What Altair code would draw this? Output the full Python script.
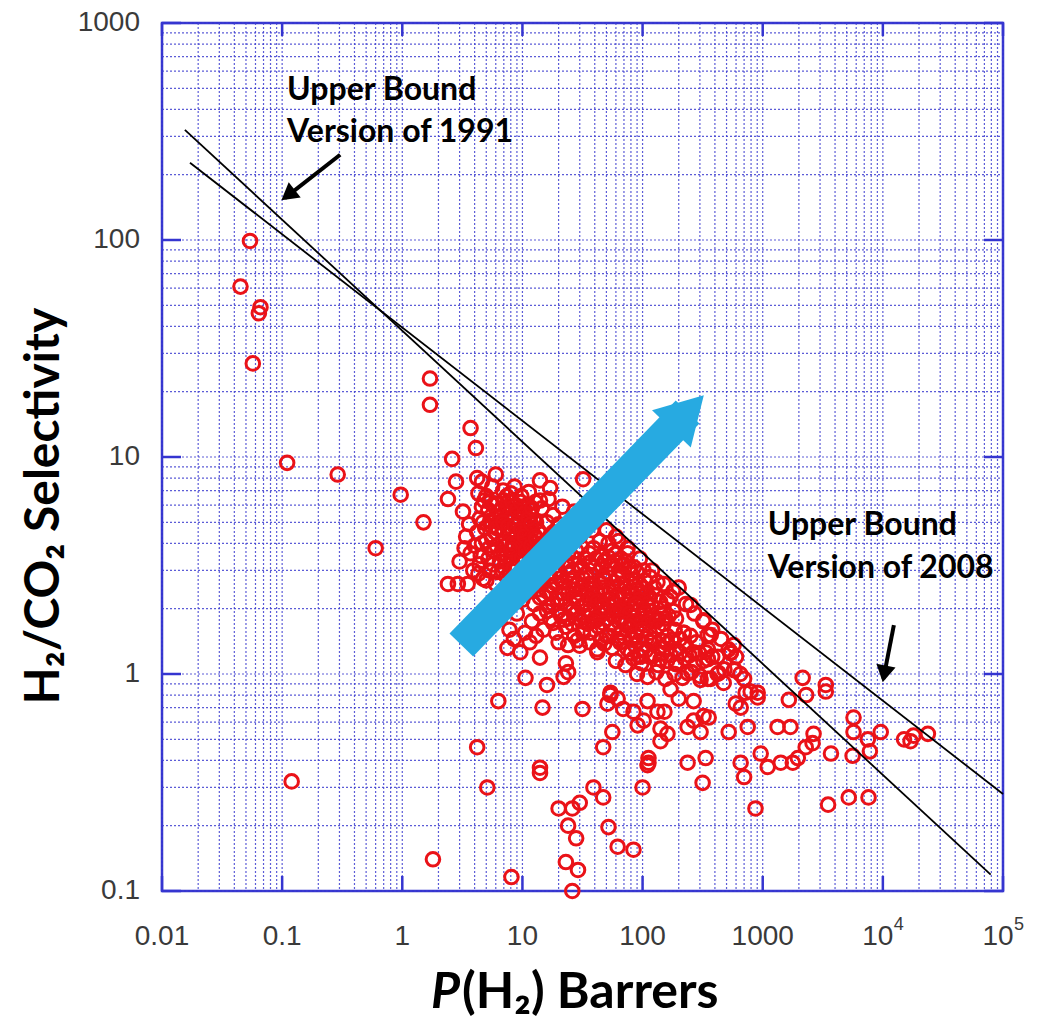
import altair as alt
import pandas as pd

# ---------------- data ----------------
# membrane data points: (P(H2) in Barrer, H2/CO2 selectivity)
points_sparse_left = [
    (0.054, 99), (0.045, 61), (0.066, 49), (0.064, 46), (0.057, 27), (0.11, 9.4),
    (0.29, 8.3), (0.97, 6.7), (0.6, 3.8), (0.12, 0.32), (1.8, 0.14), (1.7, 23),
    (1.7, 17.4), (1.5, 5.0),
]
points_cluster_a = [
    (2.4, 6.4), (2.6, 9.8), (2.8, 7.7), (4.2, 8.0), (4.6, 7.7), (6.0, 8.3), (5.6, 7.3),
    (3.7, 13.6), (4.1, 11), (14, 7.8), (14, 6.3), (14.5, 5.8), (21.5, 5.9), (32, 7.9),
    (3.2, 5.6), (3.6, 4.9), (3.4, 4.3), (4.4, 5.2), (4.8, 6.3), (5.2, 5.7), (5.5, 4.8),
    (6.2, 6.1), (6.6, 5.3), (7.0, 4.6), (7.5, 5.8), (8.0, 6.8), (8.4, 5.1), (9.0, 4.4),
    (9.6, 5.5), (10.2, 4.8), (11, 6.0), (11.5, 4.2), (12.5, 5.1), (13.5, 4.6), (15, 4.0),
    (16, 5.0), (17.5, 4.3), (19, 3.8), (20, 4.9), (22, 4.1), (24, 3.6),
    (4.0, 3.9), (4.5, 3.5), (5.0, 4.1), (5.8, 3.7), (6.5, 3.3), (7.2, 3.9), (8.0, 3.5),
    (8.8, 3.1), (9.5, 3.7), (10.5, 3.3), (12, 3.0), (13, 3.6), (3.0, 3.3), (2.9, 2.6),
    (3.5, 2.6), (4.7, 2.75), (2.4, 2.6), (3.9, 3.0), (5.3, 3.0), (6.0, 2.6), (7.4, 2.8),
    (8.5, 2.6), (9.8, 2.9), (11, 2.5), (6.8, 4.1), (7.8, 4.4), (8.6, 3.9), (9.2, 4.9),
    (10.8, 4.0), (12, 4.6), (5.9, 4.5), (6.3, 5.0), (7.3, 5.2), (8.3, 4.6), (10, 5.9),
    (11.8, 5.4), (13, 5.0), (6.9, 7.0), (8.6, 7.3), (9.8, 6.6), (11.3, 6.9), (12.8, 6.2),
    (16.5, 6.4), (18, 5.4), (17, 7.2),
    (4.3, 6.8), (5.0, 6.6), (5.7, 6.0), (6.4, 5.6), (7.0, 6.3), (7.8, 5.5), (8.8, 6.0),
    (9.3, 5.2), (10.5, 5.0), (11.5, 5.7), (4.2, 4.5), (4.9, 4.7), (5.6, 4.2), (6.1, 3.9),
    (7.0, 3.6), (7.6, 4.0), (8.3, 4.0), (9.2, 4.1), (10, 3.9), (10.8, 4.5), (5.2, 3.4),
    (6.8, 3.0), (7.9, 3.2), (9.0, 3.4), (11.2, 3.6), (3.7, 3.6), (4.4, 3.2), (3.3, 3.8),
    (4.6, 5.9), (5.4, 6.2), (6.0, 5.3), (6.8, 5.8), (7.4, 6.6), (8.2, 6.2), (9.0, 5.7),
    (9.7, 6.2), (10.4, 5.5), (11.2, 5.2), (12.0, 5.8), (4.7, 5.0), (5.4, 5.1), (6.1, 4.7),
    (6.9, 5.0), (7.6, 4.8), (8.6, 4.8), (9.6, 4.6), (10.4, 4.3), (11.8, 4.9), (12.8, 4.3),
    (4.6, 4.0), (5.3, 3.8), (6.6, 3.6), (7.3, 3.3), (8.0, 3.75), (9.8, 3.4), (10.6, 3.7),
    (11.8, 3.9), (12.6, 3.4), (5.7, 3.2), (6.2, 2.95), (7.0, 3.1), (8.4, 3.05), (9.2, 2.75),
    (10.2, 3.05), (4.3, 2.9), (5.0, 2.7), (14, 3.9), (13, 4.2),
    (6.5, 1.8), (7.8, 1.6), (9, 1.9), (10.5, 1.55), (12, 1.75), (8.5, 1.45), (11.5, 1.4),
    (13, 1.5), (6.8, 2.2), (8.2, 2.3),
]
points_cluster_b = [
    (18, 4.5), (22, 4.0), (26, 4.8), (30, 4.3), (34, 5.2), (38, 4.6), (42, 5.5), (27, 5.6),
    (15, 3.4), (19, 3.6), (23, 3.3), (28, 3.7), (33, 3.4), (39, 3.8), (45, 3.5), (52, 4.0),
    (60, 3.6), (50, 4.6),
    (16, 3.9), (21, 3.5), (25, 3.95), (31, 3.85), (36, 3.6), (44, 4.1), (48, 3.3), (56, 3.7),
    (66, 3.4), (85, 3.1),
    (17, 3.2), (20, 3.35), (24, 3.15), (27, 3.4), (31, 3.1), (36, 3.25), (41, 3.4), (46, 3.15),
    (52, 3.45), (59, 3.3), (68, 3.2), (77, 3.1), (90, 2.95), (105, 2.7),
    (12, 2.9), (14, 3.1), (17, 2.8), (20, 3.0), (24, 2.9), (29, 3.2), (34, 2.9), (40, 3.1),
    (47, 2.8), (55, 3.2), (64, 3.0), (72, 3.3), (80, 2.9),
    (15, 2.65), (18.5, 2.9), (21.5, 2.65), (26, 3.0), (29, 2.6), (34, 2.4), (37, 2.85),
    (46, 2.5), (50, 2.95), (58, 2.65), (68, 2.85), (79, 2.65), (91, 2.45), (108, 2.35),
    (125, 2.5),
    (11, 2.5), (13, 2.7), (16, 2.4), (19, 2.6), (22, 2.5), (26, 2.7), (31, 2.5), (36, 2.6),
    (42, 2.4), (49, 2.7), (57, 2.5), (66, 2.6), (76, 2.4), (88, 2.7), (100, 2.5), (115, 2.8),
    (13.5, 2.45), (17.5, 2.55), (20.5, 2.75), (24, 2.35), (27.5, 2.45), (32, 2.75), (38, 2.45),
    (44, 2.65), (53, 2.4), (62, 2.75), (71, 2.5), (82, 2.35), (94, 2.6),
    (14, 2.25), (17, 2.35), (22, 2.35), (26, 2.45), (30, 2.35), (35, 2.3), (40, 2.05),
    (47, 2.35), (54, 2.05), (63, 2.3), (72, 2.0), (80, 2.2), (97, 2.35), (115, 2.25),
    (140, 2.15), (160, 2.2),
    (10, 2.2), (12.5, 2.1), (15, 2.3), (18, 2.1), (21, 2.2), (25, 2.0), (29, 2.2), (34, 2.1),
    (39, 2.3), (45, 2.0), (52, 2.2), (60, 2.1), (70, 2.3), (82, 2.0), (95, 2.2), (110, 2.1),
    (130, 2.3), (150, 2.0),
    (16.5, 2.05), (19.5, 2.2), (23, 2.1), (27, 2.25), (31, 2.05), (36, 2.2), (42, 2.15),
    (48, 2.05), (56, 2.25), (65, 2.0), (75, 2.15), (88, 2.1), (102, 2.0), (120, 2.05),
    (16, 1.95), (21, 1.85), (26, 1.95), (31, 1.75), (36, 1.95), (42, 1.78), (49, 1.95),
    (57, 1.85), (66, 1.95), (74, 1.75), (85, 1.85), (100, 1.8), (117, 1.95), (135, 1.8),
    (155, 1.8), (180, 1.95),
    (14, 1.9), (17, 1.8), (20, 1.95), (24, 1.8), (28, 1.9), (33, 1.85), (38, 1.75), (44, 1.9),
    (51, 1.8), (59, 1.95), (68, 1.8), (78, 1.9), (90, 1.75), (105, 1.9), (122, 1.8), (140, 1.9),
    (165, 1.85), (190, 1.8),
    (18, 1.72), (22, 1.78), (26, 1.7), (30, 1.8), (35, 1.7), (40, 1.8), (47, 1.72), (54, 1.7),
    (63, 1.75), (72, 1.7), (83, 1.75), (96, 1.7), (112, 1.72), (130, 1.75), (150, 1.7),
    (15, 1.6), (19, 1.55), (23, 1.65), (27, 1.5), (32, 1.6), (37, 1.55), (43, 1.65), (50, 1.5),
    (58, 1.6), (67, 1.55), (77, 1.65), (88, 1.5), (100, 1.6), (115, 1.55), (135, 1.65),
    (160, 1.5), (185, 1.6), (220, 1.55),
    (45, 1.45), (53, 1.5), (62, 1.45), (70, 1.48), (80, 1.45), (93, 1.42), (108, 1.46),
    (125, 1.45), (148, 1.42), (175, 1.44), (205, 1.45), (250, 1.5),
    (30, 1.35), (36, 1.4), (42, 1.3), (48, 1.38), (56, 1.32), (65, 1.4), (75, 1.3), (86, 1.36),
    (100, 1.3), (118, 1.4), (138, 1.32), (160, 1.38), (190, 1.3), (230, 1.35), (280, 1.4),
    (80, 1.25), (92, 1.22), (106, 1.28), (125, 1.22), (147, 1.25), (172, 1.22), (205, 1.25),
    (245, 1.22), (295, 1.25), (350, 1.3), (420, 1.2),
    (60, 1.15), (72, 1.1), (84, 1.18), (98, 1.12), (115, 1.2), (135, 1.1), (160, 1.15),
    (190, 1.12), (225, 1.18), (270, 1.1), (320, 1.15), (380, 1.2),
    (90, 1.0), (110, 0.97), (130, 1.02), (155, 0.95), (185, 1.0), (215, 0.96), (255, 1.02),
    (300, 0.98), (350, 0.95), (420, 1.0), (480, 1.05),
    (60, 4.3), (75, 3.8), (95, 3.4), (120, 3.0), (150, 2.6), (180, 2.4), (200, 2.5), (230, 2.1),
    (270, 1.9), (320, 1.75), (380, 1.6), (450, 1.45), (520, 1.3), (600, 1.2), (540, 1.25),
    (580, 1.05), (650, 1.0), (700, 0.95),
    (63, 4.1), (75, 3.6), (102, 3.0), (133, 2.65), (171, 2.26), (251, 2.08), (322, 1.77),
    (369, 1.51), (335, 1.26), (541, 1.26), (573, 1.36), (908, 0.82), (721, 0.82), (596, 0.73),
    (430, 1.01), (348, 1.51), (220, 1.55), (266, 1.26), (237, 1.01),
]
points_lower = [
    (7.5, 1.32), (9.6, 1.26), (14, 1.19), (10.6, 0.96), (16, 0.89), (6.3, 0.75), (14.7, 0.70),
    (31.6, 0.69), (22, 0.97), (24, 1.02), (23, 1.12), (20, 1.4), (28.7, 1.43), (24, 1.36),
    (32, 1.54), (42, 1.26),
    (4.2, 0.46), (5.1, 0.30), (8.1, 0.116), (14, 0.35), (14, 0.37), (20, 0.24), (26, 0.24),
    (30, 0.255), (24, 0.20), (28, 0.175), (23, 0.136), (29, 0.125), (26, 0.1), (39, 0.30),
    (47, 0.27), (52, 0.197), (62, 0.16), (84, 0.155), (100, 0.30), (110, 0.38), (47, 0.46),
    (56, 0.54), (112, 0.41), (112, 0.39),
    (54, 0.80), (62, 0.77), (51, 0.73), (69, 0.69), (84, 0.67), (91, 0.58), (102, 0.61),
    (141, 0.56), (161, 0.53), (141, 0.49), (152, 0.67), (54, 0.82), (110, 0.75), (133, 0.67),
    (171, 0.85), (200, 0.77), (266, 0.75), (322, 0.64), (96, 1.2), (141, 1.17), (189, 1.11),
    (304, 0.94), (350, 1.17),
]
points_right = [
    (2150, 0.96), (2300, 0.80), (3350, 0.89), (3350, 0.83), (1650, 0.76), (1330, 0.57),
    (1700, 0.57), (2650, 0.53), (2600, 0.48), (3700, 0.43), (5700, 0.63), (5700, 0.54),
    (5600, 0.42), (7500, 0.50), (7800, 0.44), (9600, 0.54), (15000, 0.50), (17000, 0.49),
    (18000, 0.52), (23700, 0.53), (962, 0.43), (1100, 0.373), (1413, 0.39), (1780, 0.39),
    (1960, 0.41), (2280, 0.46), (655, 0.39), (700, 0.335), (870, 0.24), (3500, 0.25),
    (5200, 0.27), (7600, 0.27), (316, 0.315), (237, 0.39), (335, 0.41), (266, 0.61),
    (355, 0.63), (304, 0.54), (237, 0.57), (521, 0.54), (750, 0.57), (656, 0.70), (541, 1.25),
    (581, 1.04), (908, 0.78), (794, 0.83), (473, 0.91), (369, 0.95),
]

# Robeson upper bounds (end points of the straight log-log lines)
ub1991_x = [0.0155, 79000]
ub1991_y = [322, 0.119]
ub2008_x = [0.0171, 100000]
ub2008_y = [227, 0.28]

# axis ticks
x_tick_values = [0.01, 0.1, 1, 10, 100, 1000, 10000, 100000]
x_plain_values = [0.01, 0.1, 1, 10, 100, 1000]
x_plain_labels = ["0.01", "0.1", "1", "10", "100", "1000"]
x_pow_values = [10000, 100000]
x_pow_base = ["10", "10"]
x_pow_exp = ["4", "5"]
y_tick_values = [0.1, 1, 10, 100, 1000]
y_tick_labels = ["0.1", "1", "10", "100", "1000"]

# annotations
ann_text = ["Upper Bound", "Version of 1991", "Upper Bound", "Version of 2008"]
ann_x = [0.11, 0.11, 1100, 1100]
ann_y = [491, 315, 4.86, 3.07]

# black annotation arrows (tail, head) and head marker position
arrow1991_x = [0.304, 0.105]
arrow1991_y = [247, 156]
arrow1991_head = (0.112, 161)
arrow2008_x = [12350, 10100]
arrow2008_y = [1.68, 0.95]
arrow2008_head = (10290, 1.0)

# cyan trend arrow
trend_x = [3.1, 237]
trend_y = [1.36, 16.1]

# ---------------- build ----------------
W, H = 841, 868
RED = "#ea1218"
GRID = "#4040d0"
FRAME = "#3535d0"
LABEL_FONT = "Liberation Sans"

xs = alt.Scale(type="log", domain=[0.01, 100000], nice=False)
ys = alt.Scale(type="log", domain=[0.1, 1000], nice=False)

pts = points_sparse_left + points_cluster_a + points_cluster_b + points_lower + points_right
df_pts = pd.DataFrame(pts, columns=["perm", "sel"])

x_grid = []
for d in range(-2, 5):
    for k in range(1, 10):
        x_grid.append(k * 10.0 ** d)
x_grid.append(100000.0)
y_grid = []
for d in range(-1, 3):
    for k in range(1, 10):
        y_grid.append(k * 10.0 ** d)
y_grid.append(1000.0)

gx = alt.Chart(pd.DataFrame({"v": x_grid})).mark_rule(
    color=GRID, strokeWidth=1.2, strokeDash=[2, 2], opacity=0.85
).encode(x=alt.X("v:Q", scale=xs, axis=None), y=alt.value(0), y2=alt.value(H))
gy = alt.Chart(pd.DataFrame({"v": y_grid})).mark_rule(
    color=GRID, strokeWidth=1.2, strokeDash=[2, 2], opacity=0.85
).encode(y=alt.Y("v:Q", scale=ys, axis=None), x=alt.value(0), x2=alt.value(W))

scatter = alt.Chart(df_pts).mark_point(
    shape="circle", filled=False, color=RED, size=185, strokeWidth=3, opacity=1
).encode(x=alt.X("perm:Q", scale=xs, axis=None), y=alt.Y("sel:Q", scale=ys, axis=None))

df_ub = pd.DataFrame({
    "x": ub1991_x + ub2008_x,
    "y": ub1991_y + ub2008_y,
    "s": ["1991"] * 2 + ["2008"] * 2,
})
ub = alt.Chart(df_ub).mark_line(color="black", strokeWidth=1.8).encode(
    x=alt.X("x:Q", scale=xs, axis=None), y=alt.Y("y:Q", scale=ys, axis=None), detail="s:N"
)

# decade ticks (inward, all four sides)
dfx = pd.DataFrame({"v": x_tick_values})
dfy = pd.DataFrame({"v": y_tick_values, "lab": y_tick_labels})
tick_b = alt.Chart(dfx).mark_rule(color=FRAME, strokeWidth=2.5).encode(
    x=alt.X("v:Q", scale=xs, axis=None), y=alt.value(H), y2=alt.value(H - 15))
tick_t = alt.Chart(dfx).mark_rule(color=FRAME, strokeWidth=2.5).encode(
    x=alt.X("v:Q", scale=xs, axis=None), y=alt.value(0), y2=alt.value(13))
tick_l = alt.Chart(dfy).mark_rule(color=FRAME, strokeWidth=2.5).encode(
    y=alt.Y("v:Q", scale=ys, axis=None), x=alt.value(0), x2=alt.value(19))
tick_r = alt.Chart(dfy).mark_rule(color=FRAME, strokeWidth=2.5).encode(
    y=alt.Y("v:Q", scale=ys, axis=None), x=alt.value(W), x2=alt.value(W - 19))

dfxl = pd.DataFrame({"v": x_plain_values, "lab": x_plain_labels})
lab_x = alt.Chart(dfxl).mark_text(
    font=LABEL_FONT, fontSize=28, color="#3a3a3a", baseline="middle", align="center"
).encode(x=alt.X("v:Q", scale=xs, axis=None), y=alt.value(H + 46), text="lab:N")
dfxp = pd.DataFrame({"v": x_pow_values, "b": x_pow_base, "e": x_pow_exp})
lab_xb = alt.Chart(dfxp).mark_text(
    font=LABEL_FONT, fontSize=28, color="#3a3a3a", baseline="middle", align="center", dx=-5
).encode(x=alt.X("v:Q", scale=xs, axis=None), y=alt.value(H + 46), text="b:N")
lab_xe = alt.Chart(dfxp).mark_text(
    font=LABEL_FONT, fontSize=18, color="#3a3a3a", baseline="middle", align="left", dx=11
).encode(x=alt.X("v:Q", scale=xs, axis=None), y=alt.value(H + 34), text="e:N")
lab_y = alt.Chart(dfy).mark_text(
    font=LABEL_FONT, fontSize=28, color="#3a3a3a", baseline="middle", align="right"
).encode(y=alt.Y("v:Q", scale=ys, axis=None), x=alt.value(-22), text="lab:N")

df_ann = pd.DataFrame({"t": ann_text, "x": ann_x, "y": ann_y})
ann = alt.Chart(df_ann).mark_text(
    font="Lato", fontWeight="bold", fontSize=32, color="black", align="left", baseline="middle"
).encode(x=alt.X("x:Q", scale=xs, axis=None), y=alt.Y("y:Q", scale=ys, axis=None), text="t:N")

df_arr = pd.DataFrame({
    "x": arrow1991_x + arrow2008_x,
    "y": arrow1991_y + arrow2008_y,
    "a": ["1991"] * 2 + ["2008"] * 2,
})
arr_lines = alt.Chart(df_arr).mark_line(color="black", strokeWidth=4).encode(
    x=alt.X("x:Q", scale=xs, axis=None), y=alt.Y("y:Q", scale=ys, axis=None), detail="a:N")
df_heads = pd.DataFrame({
    "x": [arrow1991_head[0], arrow2008_head[0]],
    "y": [arrow1991_head[1], arrow2008_head[1]],
    "ang": [232, 191],
})
arr_heads = alt.Chart(df_heads).mark_point(
    shape="triangle-up", filled=True, color="black", size=380, opacity=1
).encode(x=alt.X("x:Q", scale=xs, axis=None), y=alt.Y("y:Q", scale=ys, axis=None),
         angle=alt.Angle("ang:Q", scale=None))

df_trend = pd.DataFrame({"x": trend_x, "y": trend_y})
trend = alt.Chart(df_trend).mark_line(color="#27aae1", strokeWidth=33, strokeCap="butt").encode(
    x=alt.X("x:Q", scale=xs, axis=None), y=alt.Y("y:Q", scale=ys, axis=None))
trend_head = alt.Chart(df_trend.tail(1)).mark_point(
    shape="triangle-up", filled=True, color="#27aae1", size=2900, opacity=1, angle=44
).encode(x=alt.X("x:Q", scale=xs, axis=None), y=alt.Y("y:Q", scale=ys, axis=None))

one = pd.DataFrame({"k": [0]})
title_y = alt.Chart(one).mark_text(
    font="Lato", fontWeight="bold", fontSize=48, color="black", angle=270,
    align="center", baseline="middle"
).encode(x=alt.value(-117), y=alt.value(483), text=alt.value("H\u2082/CO\u2082 Selectivity"))
title_xp = alt.Chart(one).mark_text(
    font="Lato", fontWeight="bold", fontStyle="italic", fontSize=50, color="black",
    align="right", baseline="alphabetic"
).encode(x=alt.value(298), y=alt.value(985), text=alt.value("P"))
title_xr = alt.Chart(one).mark_text(
    font="Lato", fontWeight="bold", fontSize=50, color="black",
    align="left", baseline="alphabetic"
).encode(x=alt.value(300), y=alt.value(985), text=alt.value("(H\u2082) Barrers"))

chart = alt.layer(
    gx, gy, scatter, ub, tick_b, tick_t, tick_l, tick_r, lab_x, lab_xb, lab_xe, lab_y,
    ann, arr_lines, arr_heads, trend, trend_head, title_y, title_xp, title_xr
).properties(
    width=W, height=H,
    padding={"left": 162, "top": 23, "right": 35, "bottom": 127},
    autosize=alt.AutoSizeParams(type="none"),
    background="white",
).configure_view(stroke=FRAME, strokeWidth=2.5)

chart.save("out.html", embed_options={"renderer": "svg", "actions": False})
